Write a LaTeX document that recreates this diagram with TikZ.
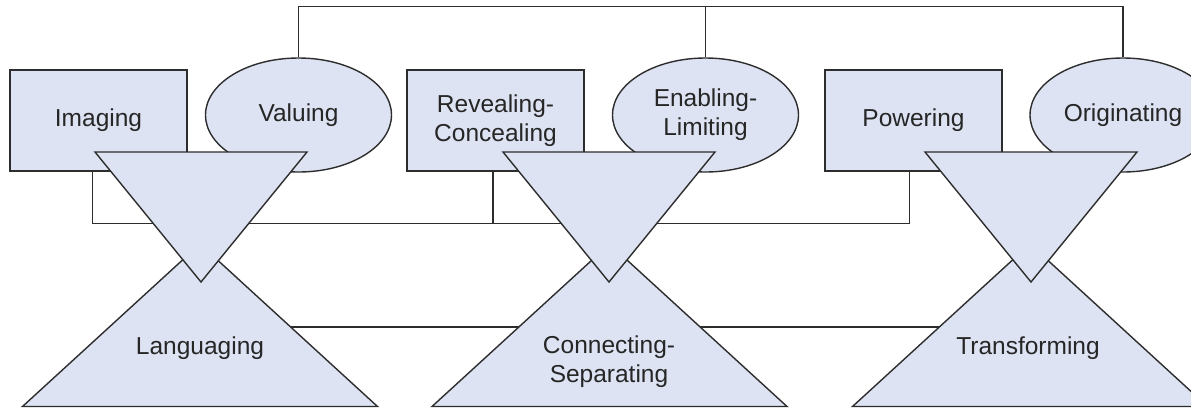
\documentclass[tikz,border=0pt]{standalone}
\usepackage{fontspec}
\setmainfont{Liberation Sans}
\usetikzlibrary{shapes.geometric}
\definecolor{panel}{RGB}{221,227,242}
\definecolor{edge}{RGB}{45,45,45}

\begin{document}
\begin{tikzpicture}[x=1pt,y=-1pt,
    box/.style={draw=edge,fill=panel,line width=1.4pt,minimum width=177pt,minimum height=101pt,inner sep=0pt},
    oval/.style={ellipse,draw=edge,fill=panel,line width=1.4pt,minimum width=186pt,minimum height=114pt,inner sep=0pt},
    tri/.style={draw=edge,fill=panel,line width=1.4pt},
    link/.style={draw=edge,line width=1.4pt},
    lbl/.style={align=center,font=\fontsize{24.5}{29}\selectfont,text=black!85}]
    \useasboundingbox (0,0) rectangle (1191,408);
    \clip (0,0) rectangle (1191,408);

    % apexes of the triangles
    \coordinate (langtop) at (200,244);
    \coordinate (conntop) at (609.5,244);
    \coordinate (transtop) at (1030,244);
    \coordinate (langtip) at (201,282);
    \coordinate (conntip) at (609,282);
    \coordinate (transtip) at (1031,282);

    % connectors, drawn first so the shapes cover them
    \draw[link] ([yshift=-83pt]langtop) -- ([yshift=-83pt]transtop);

    \node[box,lbl] (img) at (98.5,120.5) {Imaging};
    \node[box,lbl] (rev) at (495.5,120.5) {Revealing-\\Concealing};
    \node[box,lbl] (pow) at (913.5,120.5) {Powering};
    \node[oval,lbl] (val) at (298.5,115) {Valuing};
    \node[oval,lbl] (enab) at (705.5,115) {Enabling-\\Limiting};
    \node[oval,lbl] (orig) at (1123,115) {Originating};

    \draw[link] (val.north) -- ++(0,-51) -| (orig.north);
    \draw[link] (enab.north) -- ++(0,-51);
    \draw[link] ([xshift=-6pt]img.south) -- ++(0,52) -| ([xshift=-4pt]pow.south);
    \draw[link] ([xshift=-2.5pt]rev.south) -- ++(0,52);

    % upright triangles
    \draw[tri] (langtop) -- ++(177.5,162.5) -- ++(-355,0) -- cycle;
    \draw[tri] (conntop) -- ++(177.5,162.5) -- ++(-355,0) -- cycle;
    \draw[tri] (transtop) -- ++(177.5,162.5) -- ++(-355,0) -- cycle;

    % inverted triangles
    \draw[tri] (langtip) -- ++(106,-130) -- ++(-212,0) -- cycle;
    \draw[tri] (conntip) -- ++(106,-130) -- ++(-212,0) -- cycle;
    \draw[tri] (transtip) -- ++(106,-130) -- ++(-212,0) -- cycle;

    \node[lbl] (lang) at (200,348) {Languaging};
    \node[lbl] (conn) at (609,362) {Connecting-\\Separating};
    \node[lbl] (trans) at (1028,348) {Transforming};
\end{tikzpicture}
\end{document}
